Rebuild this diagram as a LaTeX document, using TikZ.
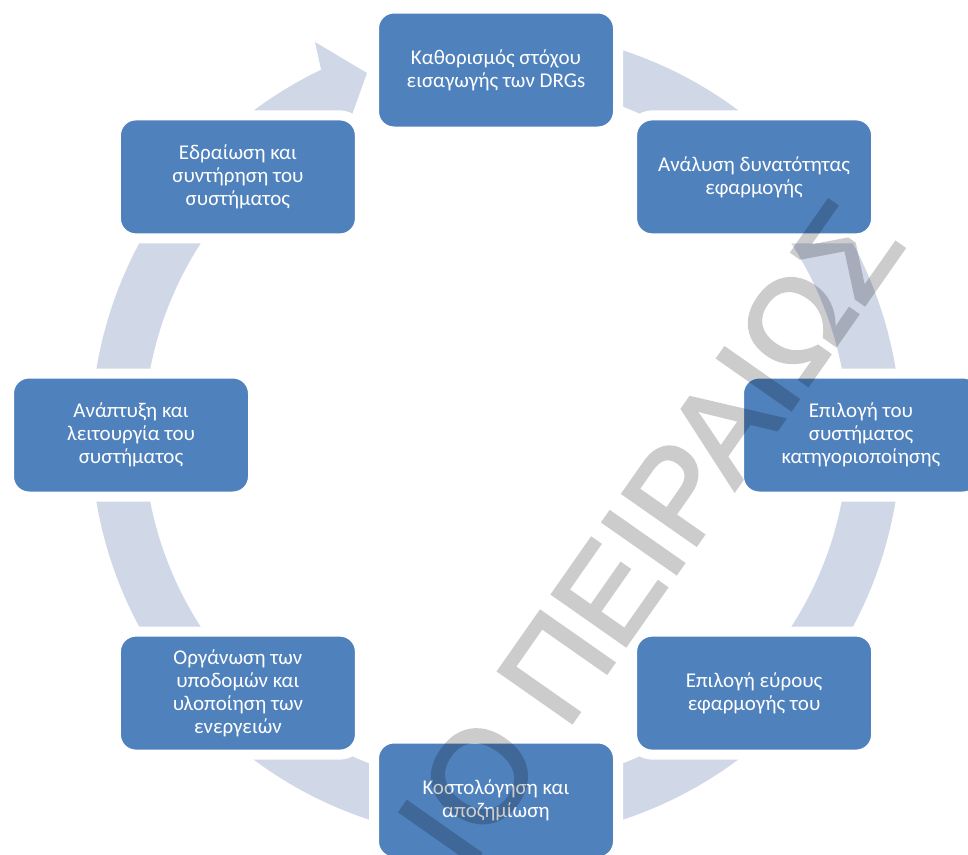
\documentclass[tikz,border=0pt]{standalone}
\usepackage{fontspec}
\usetikzlibrary{calc}
\newfontfamily\boxfont{Carlito}
\newfontfamily\markfont[FakeBold=2.5]{Liberation Sans}
\definecolor{stageblue}{RGB}{79,129,189}
\definecolor{cyclegray}{RGB}{208,216,232}
\begin{document}
\begin{tikzpicture}[x=1pt,y=1pt,
  stagebox/.style={rectangle, rounded corners=20pt, fill=stageblue,
    draw=white, line width=10pt,
    minimum width=244pt, minimum height=123pt, inner sep=0pt,
    text=white, align=center,
    font=\boxfont\fontsize{21}{23}\selectfont},
  watermark/.style={font=\markfont\fontsize{130}{130}\selectfont,
    text=black, inner sep=0pt}]
\useasboundingbox (0,0) rectangle (968,-854);
\coordinate (c) at (496,-435);

% circular arrow band, running clockwise
\fill[cyclegray] ($(c)+(76:405)$) arc[start angle=76, end angle=-245, radius=405]
  -- ($(c)+(115:352)$) arc[start angle=115, end angle=436, radius=352] -- cycle;
\coordinate (headout) at (315,-42);
\coordinate (headtip) at (367,-73);
\coordinate (headin) at (339,-151);
\fill[cyclegray] (headout) -- (headtip) -- (headin) -- cycle;

% stages of the cycle
\node[stagebox] (s1) at ($(c)+(90:365)$) {Καθορισμός στόχου\\εισαγωγής των DRGs};
\node[stagebox] (s2) at ($(c)+(45:365)$) {Ανάλυση δυνατότητας\\εφαρμογής};
\node[stagebox] (s3) at ($(c)+(0:365)$) {Επιλογή του\\συστήματος\\κατηγοριοποίησης};
\node[stagebox] (s4) at ($(c)+(-45:365)$) {Επιλογή εύρους\\εφαρμογής του};
\node[stagebox] (s5) at ($(c)+(-90:365)$) {Κοστολόγηση και\\αποζημίωση};
\node[stagebox] (s6) at ($(c)+(-135:365)$) {Οργάνωση των\\υποδομών και\\υλοποίηση των\\ενεργειών};
\node[stagebox] (s7) at ($(c)+(180:365)$) {Ανάπτυξη και\\λειτουργία του\\συστήματος};
\node[stagebox] (s8) at ($(c)+(135:365)$) {Εδραίωση και\\συντήρηση του\\συστήματος};

% diagonal watermark, laid over everything as one translucent layer
\begin{scope}
\clip (0,0) rectangle (968,-854);
\begin{scope}[transparency group, opacity=0.2]
\node[watermark, rotate=55] (wm) at (650,-533) {ΙΟ ΠΕΙΡΑΙΩΣ};
\end{scope}
\end{scope}
\end{tikzpicture}
\end{document}
